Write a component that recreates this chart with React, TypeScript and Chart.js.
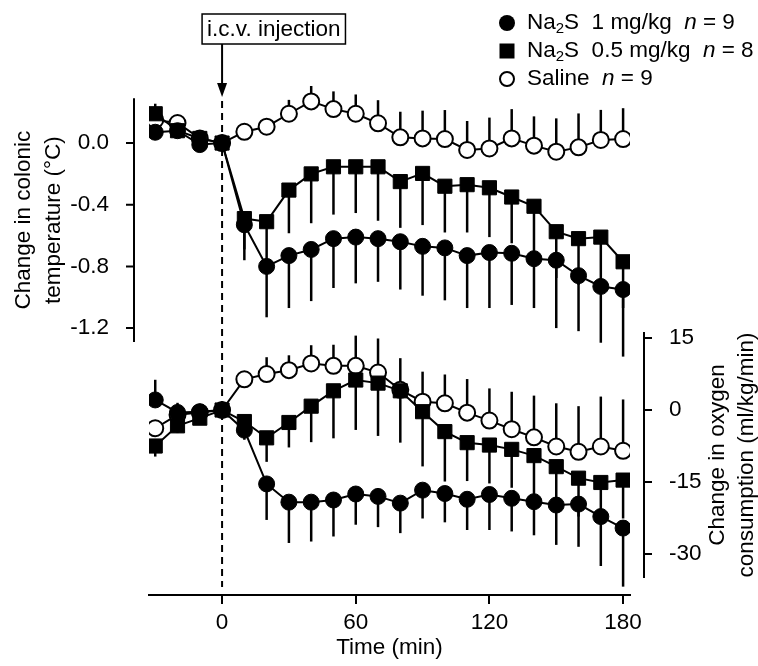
import React, { useEffect, useRef } from 'react';
import { Chart, registerables } from 'chart.js';

Chart.register(...registerables);

const FONT = '"Liberation Sans", Arial, Helvetica, sans-serif';
const FS = 22.5;

// ---- data ----
const times = [-30, -20, -10, 0, 10, 20, 30, 40, 50, 60, 70, 80, 90, 100, 110, 120, 130, 140, 150, 160, 170, 180];
const timeTicks = [0, 60, 120, 180];
const tempTicks = [0, -0.4, -0.8, -1.2];
const o2Ticks = [15, 0, -15, -30];

// Change in colonic temperature (°C); error arrays are signed (sign = direction the bar is drawn)
const tempNa1 = [0.07, 0.08, -0.01, 0, -0.53, -0.8, -0.73, -0.69, -0.62, -0.61, -0.62, -0.64, -0.67, -0.68, -0.73, -0.71, -0.715, -0.75, -0.76, -0.86, -0.93, -0.95];
const tempNa1Err = [-0.03, -0.03, -0.03, 0, -0.23, -0.33, -0.34, -0.335, -0.32, -0.3, -0.28, -0.31, -0.32, -0.34, -0.34, -0.36, -0.335, -0.32, -0.44, -0.36, -0.365, -0.435];
const tempNa05 = [0.19, 0.08, 0.03, 0, -0.49, -0.51, -0.305, -0.2, -0.154, -0.154, -0.154, -0.25, -0.197, -0.28, -0.27, -0.29, -0.35, -0.41, -0.575, -0.62, -0.61, -0.77];
const tempNa05Err = [0.065, 0.04, -0.03, 0, -0.2, -0.3, -0.28, -0.32, -0.31, -0.3, -0.35, -0.3, -0.335, -0.3, -0.31, -0.32, -0.3, -0.3, -0.3, -0.3, -0.3, -0.3];
const tempSal = [0.15, 0.13, 0.03, 0, 0.073, 0.106, 0.19, 0.27, 0.22, 0.19, 0.128, 0.037, 0.03, 0.026, -0.045, -0.035, 0.03, -0.017, -0.056, -0.028, 0.02, 0.026];
const tempSalErr = [0.04, 0.05, 0.03, 0, 0.03, 0.04, 0.09, 0.1, 0.115, 0.125, 0.15, 0.166, 0.18, 0.188, 0.188, 0.2, 0.19, 0.19, 0.216, 0.22, 0.195, 0.2];

// Change in oxygen consumption (ml/kg/min)
const o2Na1 = [2.1, -0.5, -0.35, 0, -4.2, -15.4, -19.2, -19.2, -18.75, -17.5, -18.0, -19.4, -16.7, -17.4, -18.6, -17.6, -18.4, -19.1, -19.8, -19.6, -22.2, -24.6];
const o2Na1Err = [4.2, 2, 1, 0, -2, -7.5, -8.5, -8.2, -7.6, -6.4, -6.4, -6.25, -5.9, -6.0, -6.4, -7.4, -6.9, -7.0, -8.3, -8.9, -10.3, -12.2];
const o2Na05 = [-7.5, -3.3, -1.7, 0, -2.4, -5.8, -2.6, 0.8, 4.0, 6.25, 5.6, 4.0, -0.35, -4.5, -6.8, -7.3, -8.2, -9.5, -11.8, -14.2, -15.1, -14.6];
const o2Na05Err = [-2.2, -1.5, -1, 0, -2, -5, -5.2, -7.5, -9.9, -10.4, -11, -10.8, -11.4, -10.4, -8, -8, -8, -8, -8, -8, -8, -8];
const o2Sal = [-3.8, -1.0, -0.5, 0, 6.4, 7.5, 8.3, 9.7, 9.2, 9.2, 7.8, 4.2, 1.74, 1.4, -0.55, -2.2, -4.0, -5.7, -7.6, -8.7, -7.6, -8.5];
const o2SalErr = [1, 1, 1, 0, 1, 3.5, 3.1, 3.8, 4.4, 6.3, 7.1, 6.6, 6.25, 6.0, 7.0, 6.7, 7.8, 8.7, 9.0, 9.5, 10.4, 10.7];

// axis ranges (data units)
const xRange = [-32.8, 183.1];
const tempRange = [-2.931, 0.344];
const o2Range = [-38.54, 66.67];
const tempAxisExtent = [0.29, -1.29];
const o2AxisExtent = [16.25, -35];

const tempTitle = ['Change in colonic', 'temperature (°C)'];
const o2Title = ['Change in oxygen', 'consumption (ml/kg/min)'];
const xTitle = 'Time (min)';
const annotationText = 'i.c.v. injection';

type Part = { t: string; sub?: boolean; it?: boolean };
const legendItems: { marker: string; parts: Part[] }[] = [
  { marker: 'filled', parts: [{ t: 'Na' }, { t: '2', sub: true }, { t: 'S  1 mg/kg  ' }, { t: 'n', it: true }, { t: ' = 9' }] },
  { marker: 'square', parts: [{ t: 'Na' }, { t: '2', sub: true }, { t: 'S  0.5 mg/kg  ' }, { t: 'n', it: true }, { t: ' = 8' }] },
  { marker: 'open', parts: [{ t: 'Saline  ' }, { t: 'n', it: true }, { t: ' = 9' }] },
];

function makeDataset(label: string, vals: number[], errs: number[], axis: string, marker: string) {
  const sq = marker === 'square';
  return {
    label,
    data: times.map((t, i) => ({ x: t, y: vals[i] })),
    errors: errs,
    yAxisID: axis,
    borderColor: '#000',
    borderWidth: 2,
    showLine: true,
    tension: 0,
    fill: false,
    pointStyle: sq ? 'rect' : 'circle',
    pointRadius: sq ? 10 : 8,
    pointHoverRadius: sq ? 10 : 8,
    pointBackgroundColor: marker === 'open' ? '#fff' : '#000',
    pointBorderColor: '#000',
    pointBorderWidth: marker === 'open' ? 2 : 1,
  };
}

function drawMarker(ctx: CanvasRenderingContext2D, marker: string, x: number, y: number) {
  ctx.save();
  ctx.fillStyle = '#000';
  ctx.strokeStyle = '#000';
  if (marker === 'square') {
    ctx.fillRect(x - 7.5, y - 7.5, 15, 15);
  } else {
    ctx.beginPath();
    ctx.arc(x, y, marker === 'open' ? 7 : 8, 0, Math.PI * 2);
    if (marker === 'open') {
      ctx.fillStyle = '#fff';
      ctx.fill();
      ctx.lineWidth = 2;
      ctx.stroke();
    } else ctx.fill();
  }
  ctx.restore();
}

const overlayPlugin = {
  id: 'overlay',
  beforeDatasetsDraw(chart: any) {
    const ctx = chart.ctx as CanvasRenderingContext2D;
    const xs = chart.scales.x;
    const ca = chart.chartArea;
    const x0 = xs.getPixelForValue(0);
    ctx.save();
    ctx.strokeStyle = '#000';
    ctx.lineWidth = 2;
    ctx.setLineDash([7, 5]);
    ctx.beginPath();
    ctx.moveTo(x0, ca.top + 11);
    ctx.lineTo(x0, ca.bottom - 8);
    ctx.stroke();
    ctx.restore();
  },
  beforeDatasetDraw(chart: any, args: any) {
    const ds = chart.data.datasets[args.index];
    const ctx = chart.ctx as CanvasRenderingContext2D;
    const xs = chart.scales.x;
    const ys = chart.scales[ds.yAxisID];
    ctx.save();
    ctx.strokeStyle = '#000';
    ctx.lineWidth = 2.5;
    ds.data.forEach((p: any, i: number) => {
      const e = ds.errors[i];
      if (!e) return;
      const px = xs.getPixelForValue(p.x);
      ctx.beginPath();
      ctx.moveTo(px, ys.getPixelForValue(p.y));
      ctx.lineTo(px, ys.getPixelForValue(p.y + e));
      ctx.stroke();
    });
    ctx.restore();
  },
  afterDraw(chart: any) {
    const ctx = chart.ctx as CanvasRenderingContext2D;
    const ca = chart.chartArea;
    const xs = chart.scales.x;
    const yT = chart.scales.yT;
    const yO = chart.scales.yO;
    ctx.save();
    ctx.strokeStyle = '#000';
    ctx.fillStyle = '#000';
    ctx.lineWidth = 2;

    // left axis (temperature)
    const lx = ca.left - 15;
    const lTop = yT.getPixelForValue(tempAxisExtent[0]);
    const lBot = yT.getPixelForValue(tempAxisExtent[1]);
    ctx.beginPath();
    ctx.moveTo(lx, lTop);
    ctx.lineTo(lx, lBot);
    tempTicks.forEach((v) => {
      const py = yT.getPixelForValue(v);
      ctx.moveTo(lx, py);
      ctx.lineTo(lx - 8, py);
    });
    ctx.stroke();

    // right axis (oxygen)
    const rx = ca.right + 14;
    const rTop = yO.getPixelForValue(o2AxisExtent[0]);
    const rBot = yO.getPixelForValue(o2AxisExtent[1]);
    ctx.beginPath();
    ctx.moveTo(rx, rTop);
    ctx.lineTo(rx, rBot);
    o2Ticks.forEach((v) => {
      const py = yO.getPixelForValue(v);
      ctx.moveTo(rx, py);
      ctx.lineTo(rx + 8, py);
    });
    ctx.stroke();

    // axis titles
    ctx.font = `${FS}px ${FONT}`;
    ctx.textAlign = 'center';
    ctx.textBaseline = 'middle';
    const lMid = (lTop + lBot) / 2;
    tempTitle.forEach((line, i) => {
      ctx.save();
      ctx.translate(24 + i * 30, lMid);
      ctx.rotate(-Math.PI / 2);
      ctx.fillText(line, 0, 0);
      ctx.restore();
    });
    const rMid = (rTop + rBot) / 2;
    o2Title.forEach((line, i) => {
      ctx.save();
      ctx.translate(718 + i * 29, rMid);
      ctx.rotate(-Math.PI / 2);
      ctx.fillText(line, 0, 0);
      ctx.restore();
    });
    ctx.fillText(xTitle, (ca.left + ca.right) / 2, 648);

    // annotation box + arrow
    const x0 = xs.getPixelForValue(0);
    const tw = ctx.measureText(annotationText).width;
    const bx = x0 - 20;
    const by = 14;
    const bw = tw + 10;
    const bh = 30;
    ctx.lineWidth = 1.5;
    ctx.strokeRect(bx, by, bw, bh);
    ctx.textAlign = 'left';
    ctx.fillText(annotationText, bx + 5, by + bh / 2 + 1);
    ctx.lineWidth = 2;
    const tipY = ca.top + 7;
    ctx.beginPath();
    ctx.moveTo(x0, by + bh);
    ctx.lineTo(x0, tipY - 12);
    ctx.stroke();
    ctx.beginPath();
    ctx.moveTo(x0 - 5, tipY - 14);
    ctx.lineTo(x0 + 5, tipY - 14);
    ctx.lineTo(x0, tipY);
    ctx.closePath();
    ctx.fill();

    // legend
    legendItems.forEach((item, i) => {
      const ry = 23 + i * 28;
      drawMarker(ctx, item.marker, 507, ry);
      let tx = 527;
      item.parts.forEach((p) => {
        if (p.sub) {
          ctx.font = `15px ${FONT}`;
          ctx.fillText(p.t, tx, ry + 6);
        } else {
          ctx.font = `${p.it ? 'italic ' : ''}${FS}px ${FONT}`;
          ctx.fillText(p.t, tx, ry);
        }
        tx += ctx.measureText(p.t).width;
      });
    });
    ctx.restore();
  },
};

export default function App() {
  const ref = useRef<HTMLCanvasElement | null>(null);
  useEffect(() => {
    if (!ref.current) return;
    const datasets: any[] = [
      makeDataset('Na2S 1 mg/kg (temp)', tempNa1, tempNa1Err, 'yT', 'filled'),
      makeDataset('Na2S 1 mg/kg (O2)', o2Na1, o2Na1Err, 'yO', 'filled'),
      makeDataset('Na2S 0.5 mg/kg (temp)', tempNa05, tempNa05Err, 'yT', 'square'),
      makeDataset('Na2S 0.5 mg/kg (O2)', o2Na05, o2Na05Err, 'yO', 'square'),
      makeDataset('Saline (temp)', tempSal, tempSalErr, 'yT', 'open'),
      makeDataset('Saline (O2)', o2Sal, o2SalErr, 'yO', 'open'),
    ];
    const chart = new Chart(ref.current, {
      type: 'line',
      data: { datasets },
      options: {
        animation: false,
        responsive: false,
        events: [],
        layout: { padding: { top: 90, left: 0, right: 0, bottom: 0 } },
        plugins: { legend: { display: false }, tooltip: { enabled: false } },
        scales: {
          x: {
            type: 'linear',
            min: xRange[0],
            max: xRange[1],
            afterBuildTicks: (s: any) => { s.ticks = timeTicks.map((v) => ({ value: v })); },
            afterFit: (s: any) => { s.height = 71; },
            grid: { display: true, drawOnChartArea: false, drawTicks: true, tickLength: 9, color: '#000', lineWidth: 2 },
            border: { display: true, color: '#000', width: 2 },
            ticks: { color: '#000', font: { family: FONT, size: FS }, padding: 5, maxRotation: 0, callback: (v: any) => String(v) },
          },
          yT: {
            type: 'linear',
            position: 'left',
            min: tempRange[0],
            max: tempRange[1],
            afterBuildTicks: (s: any) => { s.ticks = tempTicks.map((v) => ({ value: v })); },
            afterFit: (s: any) => { s.width = 149; },
            grid: { display: false },
            border: { display: false },
            ticks: { color: '#000', font: { family: FONT, size: FS }, padding: 32, callback: (v: any) => Number(v).toFixed(1) },
          },
          yO: {
            type: 'linear',
            position: 'right',
            min: o2Range[0],
            max: o2Range[1],
            afterBuildTicks: (s: any) => { s.ticks = o2Ticks.map((v) => ({ value: v })); },
            afterFit: (s: any) => { s.width = 128; },
            grid: { display: false },
            border: { display: false },
            ticks: { color: '#000', font: { family: FONT, size: FS }, padding: 31, callback: (v: any) => String(v) },
          },
        },
      } as any,
      plugins: [overlayPlugin as any],
    });
    return () => chart.destroy();
  }, []);
  return (
    <div style={{ position: 'fixed', left: 0, top: 0, width: 758, height: 666, background: '#fff' }}>
      <canvas ref={ref} width={758} height={666} style={{ display: 'block', width: 758, height: 666 }} />
    </div>
  );
}
